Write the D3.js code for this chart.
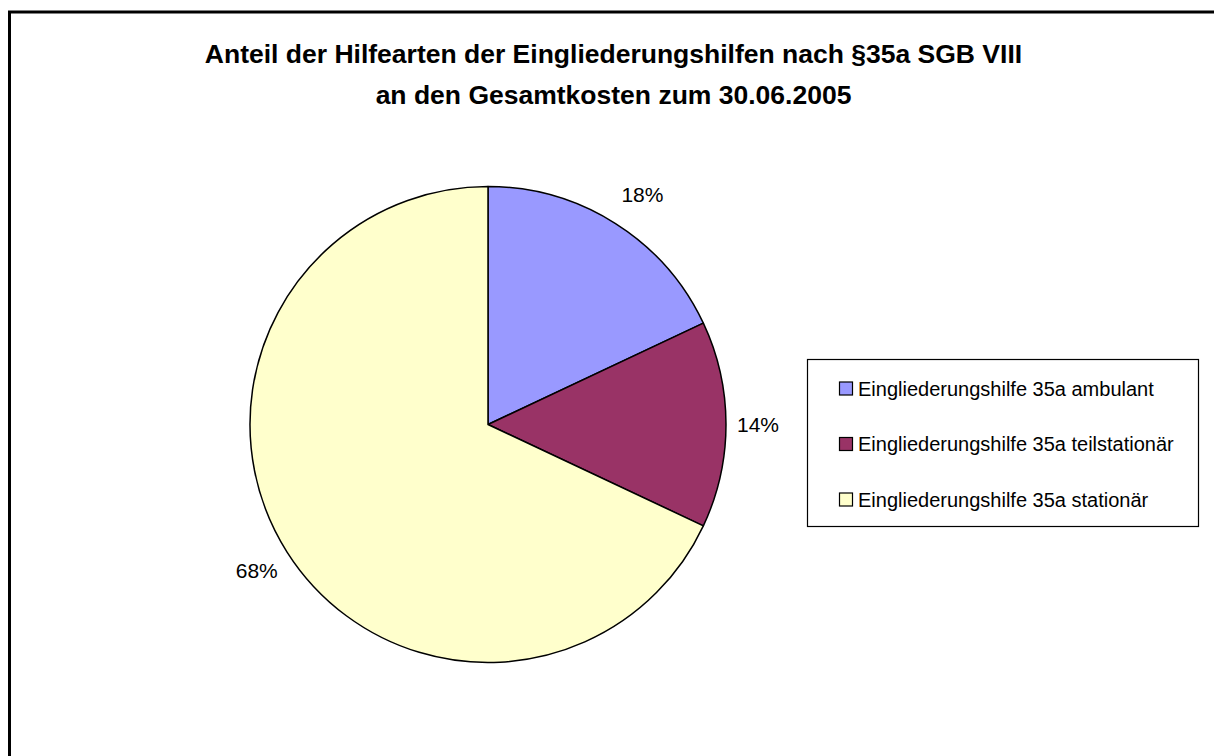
<!DOCTYPE html>
<html>
<head>
<meta charset="utf-8">
<script src="https://cdn.jsdelivr.net/npm/d3@7"></script>
<style>
  html, body { margin: 0; padding: 0; background: #fff; overflow: hidden; }
  svg { display: block; font-family: "Liberation Sans", Arial, sans-serif; }
</style>
</head>
<body>
<svg id="chart" width="1214" height="756"></svg>
<script>
// Cost shares of the integration-aid types (§35a SGB VIII), in percent
const categories = [
  "Eingliederungshilfe 35a ambulant",
  "Eingliederungshilfe 35a teilstationär",
  "Eingliederungshilfe 35a stationär"
];
const shares = [18, 14, 68];
const colors = ["#9999FF", "#993366", "#FFFFCC"];
const titleLines = [
  "Anteil der Hilfearten der Eingliederungshilfen nach §35a SGB VIII",
  "an den Gesamtkosten zum 30.06.2005"
];

const W = 1214, H = 756;
const svg = d3.select("#chart");

// outer chart frame (runs off the right and bottom edges)
svg.append("path")
  .attr("d", `M9.5,${H + 5} V12 H${W + 5}`)
  .attr("fill", "none")
  .attr("stroke", "#000")
  .attr("stroke-width", 3);

// title
svg.append("g").selectAll("text")
  .data(titleLines)
  .join("text")
  .attr("x", 613.5)
  .attr("y", (d, i) => 62.5 + i * 41)
  .attr("text-anchor", "middle")
  .attr("font-weight", "bold")
  .attr("font-size", 26.5)
  .attr("fill", "#000")
  .text(d => d);

// pie
const cx = 488, cy = 424.5, R = 238;
const data = categories.map((c, i) => ({ name: c, value: shares[i], color: colors[i] }));
const pie = d3.pie().value(d => d.value).sort(null);
const arcs = pie(data);
const arc = d3.arc().innerRadius(0).outerRadius(R);

const g = svg.append("g").attr("transform", `translate(${cx},${cy})`);
g.selectAll("path.slice")
  .data(arcs)
  .join("path")
  .attr("class", "slice")
  .attr("d", arc)
  .attr("fill", d => d.data.color)
  .attr("stroke", "#000")
  .attr("stroke-width", 1.5)
  .attr("stroke-linejoin", "round");

// percentage labels just outside the rim: the near edge of the text sits
// a small gap beyond the circle, horizontally; vertically on a wider ring
const gapR = R + 11, ringY = R + 34;
const mid = d => (d.startAngle + d.endAngle) / 2;
g.selectAll("text.pct")
  .data(arcs)
  .join("text")
  .attr("class", "pct")
  .attr("x", d => gapR * Math.sin(mid(d)))
  .attr("y", d => -ringY * Math.cos(mid(d)))
  .attr("text-anchor", d => Math.sin(mid(d)) >= 0 ? "start" : "end")
  .attr("dy", "0.36em")
  .attr("font-size", 21)
  .attr("fill", "#000")
  .text(d => d3.format(".0f")(d.data.value) + "%");

// legend
const lg = svg.append("g");
lg.append("rect")
  .attr("x", 807.5).attr("y", 359.5)
  .attr("width", 391).attr("height", 167)
  .attr("fill", "#fff")
  .attr("stroke", "#000")
  .attr("stroke-width", 1.2);

const rowY = d3.scalePoint().domain(categories).range([395.5, 506.5]);
const rows = lg.selectAll("g.row")
  .data(data)
  .join("g")
  .attr("class", "row")
  .attr("transform", d => `translate(0,${rowY(d.name)})`);
rows.append("rect")
  .attr("x", 839.5).attr("y", -13.5)
  .attr("width", 13).attr("height", 13)
  .attr("fill", d => d.color)
  .attr("stroke", "#000")
  .attr("stroke-width", 1.2);
rows.append("text")
  .attr("x", 858)
  .attr("y", 0)
  .attr("font-size", 20)
  .attr("fill", "#000")
  .text(d => d.name);
</script>
</body>
</html>
